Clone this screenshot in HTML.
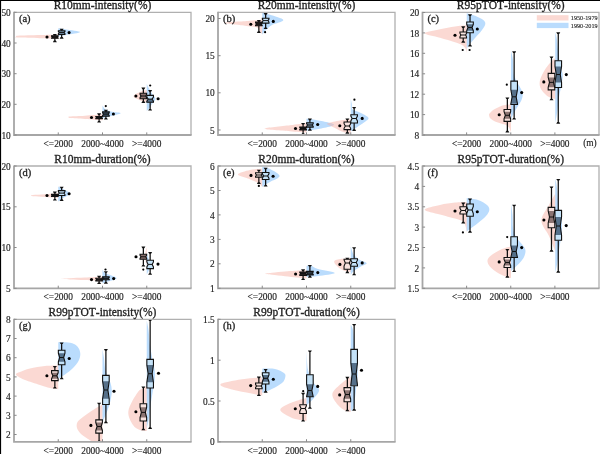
<!DOCTYPE html>
<html><head><meta charset="utf-8"><title>Violin plots</title>
<style>
html,body{margin:0;padding:0;background:#fff;}
body{width:600px;height:454px;overflow:hidden;}
svg{display:block;will-change:transform;filter:blur(0.35px);}
text{font-family:"Liberation Serif", serif;fill:#1e1e1e;font-kerning:none;stroke:#222;stroke-width:0.15px;}
.tl{font-size:9.4px;}
.tt{font-size:11.5px;stroke-width:0.3px;}
.lt{font-size:10.5px;stroke-width:0.3px;}
.lg{font-size:6.2px;stroke-width:0.1px;}
</style></head>
<body>
<svg width="600" height="454" viewBox="0 0 600 454">
<rect width="600" height="454" fill="#fff"/>
<clipPath id="clip0"><rect x="14" y="12.3" width="177" height="122.7"/></clipPath>
<g clip-path="url(#clip0)">
<path d="M58.25,34.4 C55.21,34.5 46.71,34.78 40,35 C33.29,35.22 21.93,35.43 18,35.7 C14.07,35.97 16.4,36.28 16.4,36.6 C16.4,36.92 14.07,37.32 18,37.6 C21.93,37.88 33.29,38.07 40,38.3 C46.71,38.53 55.21,38.88 58.25,39 Z" fill="#f7b3a7" fill-opacity="0.5"/>
<path d="M58.25,28.2 C59.54,28.4 62.33,28.77 66,29.4 C69.67,30.03 80.3,31.08 80.3,32 C80.3,32.92 69.67,34.2 66,34.9 C62.33,35.6 59.54,35.98 58.25,36.2 Z" fill="#75b9fb" fill-opacity="0.5"/>
<path d="M102.5,114.3 C99.58,114.53 90.42,115.33 85,115.7 C79.58,116.07 72.72,116.25 70,116.5 C67.28,116.75 68.7,116.95 68.7,117.2 C68.7,117.45 67.28,117.72 70,118 C72.72,118.28 79.58,118.52 85,118.9 C90.42,119.28 99.58,120.07 102.5,120.3 Z" fill="#f7b3a7" fill-opacity="0.5"/>
<path d="M102.5,105.5 C103,106.17 103.92,108.45 105.5,109.5 C107.08,110.55 109.47,111.17 112,111.8 C114.53,112.43 121.03,112.55 120.7,113.3 C120.37,114.05 113.03,115.48 110,116.3 C106.97,117.12 103.75,117.88 102.5,118.2 Z" fill="#75b9fb" fill-opacity="0.5"/>
<path d="M146.75,90 C145.71,90.3 142.71,90.75 140.5,91.8 C138.29,92.85 133.5,94.85 133.5,96.3 C133.5,97.75 138.29,99.5 140.5,100.5 C142.71,101.5 145.71,102 146.75,102.3 Z" fill="#f7b3a7" fill-opacity="0.5"/>
<path d="M146.75,84 C147.12,84.75 148.07,86.83 149,88.5 C149.93,90.17 151.22,92.25 152.3,94 C153.38,95.75 155.55,97.33 155.5,99 C155.45,100.67 153.08,102.42 152,104 C150.92,105.58 149.88,107.33 149,108.5 C148.12,109.67 147.12,110.58 146.75,111 Z" fill="#75b9fb" fill-opacity="0.5"/>
<path d="M54.85,34.6 V35.7 M54.85,38.3 V41.5" stroke="#111" stroke-width="1.25" fill="none"/>
<polygon points="52.85,33.9 56.85,33.9 55.85,35.5 53.85,35.5" fill="#111"/>
<polygon points="52.85,42.2 56.85,42.2 55.85,40.6 53.85,40.6" fill="#111"/>
<polygon points="51.55,35.7 58.15,35.7 58.15,36.22 57.25,37 58.15,37.78 58.15,38.3 51.55,38.3 51.55,37.78 52.45,37 51.55,36.22" fill="#2a2020"/>
<polygon points="51.55,35.7 58.15,35.7 58.15,36.22 57.25,37 58.15,37.78 58.15,38.3 51.55,38.3 51.55,37.78 52.45,37 51.55,36.22" fill="none" stroke="#111" stroke-width="1.1"/>
<path d="M52.45,37 H57.25" stroke="#111" stroke-width="1"/>
<path d="M61.65,29.4 V30.7 M61.65,34.5 V38" stroke="#111" stroke-width="1.25" fill="none"/>
<polygon points="59.65,28.7 63.65,28.7 62.65,30.3 60.65,30.3" fill="#111"/>
<polygon points="59.65,38.7 63.65,38.7 62.65,37.1 60.65,37.1" fill="#111"/>
<polygon points="58.35,30.7 64.95,30.7 64.95,31.46 64.05,32.6 64.95,33.74 64.95,34.5 58.35,34.5 58.35,33.74 59.25,32.6 58.35,31.46" fill="#6f8ca6"/>
<polygon points="58.35,30.7 64.95,30.7 64.95,31.46 64.05,32.6 64.95,33.74 64.95,34.5 58.35,34.5 58.35,33.74 59.25,32.6 58.35,31.46" fill="none" stroke="#111" stroke-width="1.1"/>
<path d="M59.25,32.6 H64.05" stroke="#111" stroke-width="1"/>
<circle cx="47" cy="37" r="1.55" fill="#000"/>
<circle cx="69.1" cy="32.6" r="1.55" fill="#000"/>
<path d="M99.1,114 V116.6 M99.1,118.6 V121.8" stroke="#111" stroke-width="1.25" fill="none"/>
<polygon points="97.1,113.3 101.1,113.3 100.1,114.9 98.1,114.9" fill="#111"/>
<polygon points="97.1,122.5 101.1,122.5 100.1,120.9 98.1,120.9" fill="#111"/>
<polygon points="95.8,116.6 102.4,116.6 102.4,117 101.5,117.6 102.4,118.2 102.4,118.6 95.8,118.6 95.8,118.2 96.7,117.6 95.8,117" fill="#2a2020"/>
<polygon points="95.8,116.6 102.4,116.6 102.4,117 101.5,117.6 102.4,118.2 102.4,118.6 95.8,118.6 95.8,118.2 96.7,117.6 95.8,117" fill="none" stroke="#111" stroke-width="1.1"/>
<path d="M96.7,117.6 H101.5" stroke="#111" stroke-width="1"/>
<path d="M105.9,110.5 V111.9 M105.9,116.3 V118.9" stroke="#111" stroke-width="1.25" fill="none"/>
<polygon points="103.9,109.8 107.9,109.8 106.9,111.4 104.9,111.4" fill="#111"/>
<polygon points="103.9,119.6 107.9,119.6 106.9,118 104.9,118" fill="#111"/>
<polygon points="102.6,111.9 109.2,111.9 109.2,112.78 108.3,114.1 109.2,115.42 109.2,116.3 102.6,116.3 102.6,115.42 103.5,114.1 102.6,112.78" fill="#3e5366"/>
<polygon points="102.6,111.9 109.2,111.9 109.2,112.78 108.3,114.1 109.2,115.42 109.2,116.3 102.6,116.3 102.6,115.42 103.5,114.1 102.6,112.78" fill="none" stroke="#111" stroke-width="1.1"/>
<path d="M103.5,114.1 H108.3" stroke="#111" stroke-width="1"/>
<circle cx="105.8" cy="106.1" r="1.1" fill="#000"/>
<circle cx="91.5" cy="117.5" r="1.55" fill="#000"/>
<circle cx="113.4" cy="114" r="1.55" fill="#000"/>
<path d="M143.35,88.3 V93.3 M143.35,98.8 V102.2" stroke="#111" stroke-width="1.25" fill="none"/>
<polygon points="141.35,87.6 145.35,87.6 144.35,89.2 142.35,89.2" fill="#111"/>
<polygon points="141.35,102.9 145.35,102.9 144.35,101.3 142.35,101.3" fill="#111"/>
<polygon points="140.05,93.3 146.65,93.3 146.65,94.35 145.75,96 146.65,97.65 146.65,98.8 140.05,98.8 140.05,97.65 140.95,96 140.05,94.35" fill="#8a6f6c"/>
<polygon points="140.05,93.3 146.65,93.3 146.65,94.35 145.75,96 146.65,97.65 146.65,98.8 140.05,98.8 140.05,97.65 140.95,96 140.05,94.35" fill="none" stroke="#111" stroke-width="1.1"/>
<path d="M140.95,96 H145.75" stroke="#111" stroke-width="1"/>
<path d="M150.15,90.8 V95.4 M150.15,102.2 V109.9" stroke="#111" stroke-width="1.25" fill="none"/>
<polygon points="148.15,90.1 152.15,90.1 151.15,91.7 149.15,91.7" fill="#111"/>
<polygon points="148.15,110.6 152.15,110.6 151.15,109 149.15,109" fill="#111"/>
<polygon points="146.85,95.4 153.45,95.4 153.45,97.06 152.15,99.1 153.45,101.14 153.45,102.2 146.85,102.2 146.85,101.14 148.15,99.1 146.85,97.06" fill="#c4e2f8"/>
<polygon points="148.15,99.1 152.15,99.1 153.45,101.14 153.45,102.2 146.85,102.2 146.85,101.14" fill="#55708a"/>
<polygon points="146.85,95.4 153.45,95.4 153.45,97.06 152.15,99.1 153.45,101.14 153.45,102.2 146.85,102.2 146.85,101.14 148.15,99.1 146.85,97.06" fill="none" stroke="#111" stroke-width="1.1"/>
<path d="M148.15,99.1 H152.15" stroke="#111" stroke-width="1"/>
<circle cx="150.2" cy="85.5" r="1.1" fill="#000"/>
<circle cx="135.9" cy="96" r="1.55" fill="#000"/>
<circle cx="158.1" cy="98.8" r="1.55" fill="#000"/>
</g>
<path d="M14,12.3 H191 V135" stroke="#b0b0b0" stroke-width="1.3" fill="none"/>
<path d="M14,11.7 V135 H191.6" stroke="#a6a6a6" stroke-width="1.8" fill="none"/>
<path d="M58.25,135 V132.4 M102.5,135 V132.4 M146.75,135 V132.4 M14,135 H16.6 M14,104.3 H16.6 M14,73.7 H16.6 M14,43 H16.6 M14,12.3 H16.6" stroke="#8a8a8a" stroke-width="1" fill="none"/>
<text x="10.8" y="138.6" text-anchor="end" class="tl">10</text>
<text x="10.8" y="107.9" text-anchor="end" class="tl">20</text>
<text x="10.8" y="77.3" text-anchor="end" class="tl">30</text>
<text x="10.8" y="46.6" text-anchor="end" class="tl">40</text>
<text x="10.8" y="15.9" text-anchor="end" class="tl">50</text>
<text x="58.25" y="147" text-anchor="middle" class="tl">&lt;=2000</text>
<text x="102.5" y="147" text-anchor="middle" class="tl">2000~4000</text>
<text x="146.75" y="147" text-anchor="middle" class="tl">&gt;=4000</text>
<text transform="translate(102.5,9.4) scale(1,1.12)" text-anchor="middle" class="tt">R10mm-intensity(%)</text>
<text x="18.9" y="22.3" class="lt">(a)</text>
<clipPath id="clip1"><rect x="218" y="12.3" width="177" height="122.7"/></clipPath>
<g clip-path="url(#clip1)">
<path d="M262.25,19.8 C259.88,20 254.38,20.5 248,21 C241.62,21.5 224.5,22 224,22.8 C223.5,23.6 239.5,25.02 245,25.8 C250.5,26.58 254.5,26.47 257,27.5 C259.5,28.53 259.12,30.92 260,32 C260.88,33.08 261.88,33.67 262.25,34 Z" fill="#f7b3a7" fill-opacity="0.5"/>
<path d="M262.25,12.7 C263.54,13.05 266.49,13.58 270,14.8 C273.51,16.02 282.97,18.3 283.3,20 C283.63,21.7 274.88,23.33 272,25 C269.12,26.67 267.62,28.38 266,30 C264.38,31.62 262.88,33.92 262.25,34.7 Z" fill="#75b9fb" fill-opacity="0.5"/>
<path d="M306.5,123.3 C303.75,123.63 296.97,124.4 290,125.3 C283.03,126.2 264.7,127.72 264.7,128.7 C264.7,129.68 283.03,130.55 290,131.2 C296.97,131.85 303.75,132.37 306.5,132.6 Z" fill="#f7b3a7" fill-opacity="0.5"/>
<path d="M306.5,118.7 C307.92,118.88 310.42,118.8 315,119.8 C319.58,120.8 334,123.07 334,124.7 C334,126.33 319.58,128.58 315,129.6 C310.42,130.62 307.92,130.6 306.5,130.8 Z" fill="#75b9fb" fill-opacity="0.5"/>
<path d="M350.75,119 C349.46,119.17 345.62,119.58 343,120 C340.38,120.42 337.33,121.02 335,121.5 C332.67,121.98 330.42,122.52 329,122.9 C327.58,123.28 326.5,123.42 326.5,123.8 C326.5,124.18 327.75,124.58 329,125.2 C330.25,125.82 332.33,126.67 334,127.5 C335.67,128.33 337.17,129.35 339,130.2 C340.83,131.05 343.04,132.05 345,132.6 C346.96,133.15 349.79,133.35 350.75,133.5 Z" fill="#f7b3a7" fill-opacity="0.5"/>
<path d="M350.75,99 C350.93,99.83 351.56,102.33 351.8,104 C352.04,105.67 351.5,107.83 352.2,109 C352.9,110.17 354.37,110.25 356,111 C357.63,111.75 359.92,112.33 362,113.5 C364.08,114.67 368.17,116.5 368.5,118 C368.83,119.5 365.75,121.08 364,122.5 C362.25,123.92 359.83,125.25 358,126.5 C356.17,127.75 354.21,129.25 353,130 C351.79,130.75 351.12,130.83 350.75,131 Z" fill="#75b9fb" fill-opacity="0.5"/>
<path d="M258.85,20.8 V22 M258.85,25.8 V32.2" stroke="#111" stroke-width="1.25" fill="none"/>
<polygon points="256.85,20.1 260.85,20.1 259.85,21.7 257.85,21.7" fill="#111"/>
<polygon points="256.85,32.9 260.85,32.9 259.85,31.3 257.85,31.3" fill="#111"/>
<polygon points="255.55,22 262.15,22 262.15,22.86 261.25,24 262.15,25.14 262.15,25.8 255.55,25.8 255.55,25.14 256.45,24 255.55,22.86" fill="#2a2020"/>
<polygon points="255.55,22 262.15,22 262.15,22.86 261.25,24 262.15,25.14 262.15,25.8 255.55,25.8 255.55,25.14 256.45,24 255.55,22.86" fill="none" stroke="#111" stroke-width="1.1"/>
<path d="M256.45,24 H261.25" stroke="#111" stroke-width="1"/>
<path d="M265.65,13.8 V18.2 M265.65,23.1 V28.4" stroke="#111" stroke-width="1.25" fill="none"/>
<polygon points="263.65,13.1 267.65,13.1 266.65,14.7 264.65,14.7" fill="#111"/>
<polygon points="263.65,29.1 267.65,29.1 266.65,27.5 264.65,27.5" fill="#111"/>
<polygon points="262.35,18.2 268.95,18.2 268.95,19.13 268.05,20.6 268.95,22.07 268.95,23.1 262.35,23.1 262.35,22.07 263.25,20.6 262.35,19.13" fill="#c4e2f8"/>
<polygon points="262.35,18.2 268.95,18.2 268.95,19.13 268.05,20.6 268.95,22.07 268.95,23.1 262.35,23.1 262.35,22.07 263.25,20.6 262.35,19.13" fill="none" stroke="#111" stroke-width="1.1"/>
<path d="M263.25,20.6 H268.05" stroke="#111" stroke-width="1"/>
<circle cx="265.1" cy="32.2" r="1.1" fill="#000"/>
<circle cx="250.8" cy="24.3" r="1.55" fill="#000"/>
<circle cx="273.3" cy="21.4" r="1.55" fill="#000"/>
<path d="M303.1,123.6 V127.1 M303.1,130 V134.1" stroke="#111" stroke-width="1.25" fill="none"/>
<polygon points="301.1,122.9 305.1,122.9 304.1,124.5 302.1,124.5" fill="#111"/>
<polygon points="301.1,134.8 305.1,134.8 304.1,133.2 302.1,133.2" fill="#111"/>
<polygon points="299.8,127.1 306.4,127.1 306.4,127.63 305.5,128.5 306.4,129.37 306.4,130 299.8,130 299.8,129.37 300.7,128.5 299.8,127.63" fill="#2a2020"/>
<polygon points="299.8,127.1 306.4,127.1 306.4,127.63 305.5,128.5 306.4,129.37 306.4,130 299.8,130 299.8,129.37 300.7,128.5 299.8,127.63" fill="none" stroke="#111" stroke-width="1.1"/>
<path d="M300.7,128.5 H305.5" stroke="#111" stroke-width="1"/>
<path d="M309.9,119.25 V122.75 M309.9,127.1 V130" stroke="#111" stroke-width="1.25" fill="none"/>
<polygon points="307.9,118.55 311.9,118.55 310.9,120.15 308.9,120.15" fill="#111"/>
<polygon points="307.9,130.7 311.9,130.7 310.9,129.1 308.9,129.1" fill="#111"/>
<polygon points="306.6,122.75 313.2,122.75 313.2,123.7 312.3,125 313.2,126.3 313.2,127.1 306.6,127.1 306.6,126.3 307.5,125 306.6,123.7" fill="#6f8ca6"/>
<polygon points="306.6,122.75 313.2,122.75 313.2,123.7 312.3,125 313.2,126.3 313.2,127.1 306.6,127.1 306.6,126.3 307.5,125 306.6,123.7" fill="none" stroke="#111" stroke-width="1.1"/>
<path d="M307.5,125 H312.3" stroke="#111" stroke-width="1"/>
<circle cx="295.5" cy="128.5" r="1.55" fill="#000"/>
<circle cx="317.7" cy="124.5" r="1.55" fill="#000"/>
<path d="M347.35,119.2 V122 M347.35,129.6 V133" stroke="#111" stroke-width="1.25" fill="none"/>
<polygon points="345.35,118.5 349.35,118.5 348.35,120.1 346.35,120.1" fill="#111"/>
<polygon points="345.35,133.7 349.35,133.7 348.35,132.1 346.35,132.1" fill="#111"/>
<polygon points="344.05,122 350.65,122 350.65,123.72 349.35,126 350.65,128.28 350.65,129.6 344.05,129.6 344.05,128.28 345.35,126 344.05,123.72" fill="#f7e2de"/>
<polygon points="344.05,122 350.65,122 350.65,123.72 349.35,126 350.65,128.28 350.65,129.6 344.05,129.6 344.05,128.28 345.35,126 344.05,123.72" fill="none" stroke="#111" stroke-width="1.1"/>
<path d="M345.35,126 H349.35" stroke="#111" stroke-width="1"/>
<path d="M354.15,107.6 V114.8 M354.15,123 V130.2" stroke="#111" stroke-width="1.25" fill="none"/>
<polygon points="352.15,106.9 356.15,106.9 355.15,108.5 353.15,108.5" fill="#111"/>
<polygon points="352.15,130.9 356.15,130.9 355.15,129.3 353.15,129.3" fill="#111"/>
<polygon points="350.85,114.8 357.45,114.8 357.45,116.04 356.15,118.5 357.45,120.96 357.45,123 350.85,123 350.85,120.96 352.15,118.5 350.85,116.04" fill="#c4e2f8"/>
<polygon points="350.85,114.8 357.45,114.8 357.45,116.04 356.15,118.5 357.45,120.96 357.45,123 350.85,123 350.85,120.96 352.15,118.5 350.85,116.04" fill="none" stroke="#111" stroke-width="1.1"/>
<path d="M352.15,118.5 H356.15" stroke="#111" stroke-width="1"/>
<circle cx="354.4" cy="99.7" r="1.1" fill="#000"/>
<circle cx="339.8" cy="125.8" r="1.55" fill="#000"/>
<circle cx="362.2" cy="118.4" r="1.55" fill="#000"/>
</g>
<path d="M218,12.3 H395 V135" stroke="#b0b0b0" stroke-width="1.3" fill="none"/>
<path d="M218,11.7 V135 H395.6" stroke="#a6a6a6" stroke-width="1.8" fill="none"/>
<path d="M262.25,135 V132.4 M306.5,135 V132.4 M350.75,135 V132.4 M218,130 H220.6 M218,92.8 H220.6 M218,55.7 H220.6 M218,18.5 H220.6" stroke="#8a8a8a" stroke-width="1" fill="none"/>
<text x="214.8" y="133.6" text-anchor="end" class="tl">5</text>
<text x="214.8" y="96.4" text-anchor="end" class="tl">10</text>
<text x="214.8" y="59.3" text-anchor="end" class="tl">15</text>
<text x="214.8" y="22.1" text-anchor="end" class="tl">20</text>
<text x="262.25" y="147" text-anchor="middle" class="tl">&lt;=2000</text>
<text x="306.5" y="147" text-anchor="middle" class="tl">2000~4000</text>
<text x="350.75" y="147" text-anchor="middle" class="tl">&gt;=4000</text>
<text transform="translate(306.5,9.4) scale(1,1.12)" text-anchor="middle" class="tt">R20mm-intensity(%)</text>
<text x="222.9" y="22.3" class="lt">(b)</text>
<clipPath id="clip2"><rect x="422.5" y="12.3" width="176.5" height="122.7"/></clipPath>
<g clip-path="url(#clip2)">
<path d="M466.75,25.3 C464.79,25.5 459.46,25.85 455,26.5 C450.54,27.15 445.05,28.07 440,29.2 C434.95,30.33 424.7,31.87 424.7,33.3 C424.7,34.73 434.95,36.32 440,37.8 C445.05,39.28 451.33,41 455,42.2 C458.67,43.4 460.25,43.95 462,45 C463.75,46.05 464.71,47.22 465.5,48.5 C466.29,49.78 466.54,52 466.75,52.7 Z" fill="#f7b3a7" fill-opacity="0.5"/>
<path d="M466.75,13.3 C468.12,13.72 472.29,14.72 475,15.8 C477.71,16.88 481.28,18.43 483,19.8 C484.72,21.17 485.47,22.3 485.3,24 C485.13,25.7 483.72,27.67 482,30 C480.28,32.33 477.17,35.5 475,38 C472.83,40.5 470.38,43.22 469,45 C467.62,46.78 467.12,48.08 466.75,48.7 Z" fill="#75b9fb" fill-opacity="0.5"/>
<path d="M511,104.5 C510,104.58 506.83,104.67 505,105 C503.17,105.33 501.83,105.75 500,106.5 C498.17,107.25 495.67,108.42 494,109.5 C492.33,110.58 490.83,112.08 490,113 C489.17,113.92 488.92,114.08 489,115 C489.08,115.92 489.5,117.42 490.5,118.5 C491.5,119.58 493.25,120.67 495,121.5 C496.75,122.33 499.17,122.92 501,123.5 C502.83,124.08 504.67,124.33 506,125 C507.33,125.67 508.25,126.5 509,127.5 C509.75,128.5 510.17,130.25 510.5,131 C510.83,131.75 510.92,131.83 511,132 Z" fill="#f7b3a7" fill-opacity="0.5"/>
<path d="M511,51 C511.33,52.5 512.58,56.5 513,60 C513.42,63.5 513.17,69 513.5,72 C513.83,75 514.25,76 515,78 C515.75,80 517,82.17 518,84 C519,85.83 520.22,87.33 521,89 C521.78,90.67 522.62,92.17 522.7,94 C522.78,95.83 522.28,98 521.5,100 C520.72,102 519.17,104 518,106 C516.83,108 515.5,110.17 514.5,112 C513.5,113.83 512.58,115.77 512,117 C511.42,118.23 511.17,119 511,119.4 Z" fill="#75b9fb" fill-opacity="0.5"/>
<path d="M555.25,58 C554.54,58.67 552.54,60.33 551,62 C549.46,63.67 547.5,65.83 546,68 C544.5,70.17 543.05,72.67 542,75 C540.95,77.33 539.95,79.83 539.7,82 C539.45,84.17 539.78,86.17 540.5,88 C541.22,89.83 542.58,91.5 544,93 C545.42,94.5 547.12,96 549,97 C550.88,98 554.21,98.67 555.25,99 Z" fill="#f7b3a7" fill-opacity="0.5"/>
<path d="M555.25,32.3 C555.54,33.58 556.46,36.22 557,40 C557.54,43.78 557.83,50.33 558.5,55 C559.17,59.67 560.3,64.67 561,68 C561.7,71.33 562.62,72.17 562.7,75 C562.78,77.83 562.12,81.33 561.5,85 C560.88,88.67 559.67,92.83 559,97 C558.33,101.17 558.12,105.67 557.5,110 C556.88,114.33 555.62,120.83 555.25,123 Z" fill="#75b9fb" fill-opacity="0.5"/>
<path d="M463.23,27 V32 M463.23,38 V42" stroke="#111" stroke-width="1.25" fill="none"/>
<polygon points="461.23,26.3 465.23,26.3 464.23,27.9 462.23,27.9" fill="#111"/>
<polygon points="461.23,42.7 465.23,42.7 464.23,41.1 462.23,41.1" fill="#111"/>
<polygon points="459.93,32 466.53,32 466.53,33.2 465.63,35 466.53,36.8 466.53,38 459.93,38 459.93,36.8 460.82,35 459.93,33.2" fill="#f7e2de"/>
<polygon points="459.93,32 466.53,32 466.53,33.2 465.63,35 466.53,36.8 466.53,38 459.93,38 459.93,36.8 460.82,35 459.93,33.2" fill="none" stroke="#111" stroke-width="1.1"/>
<path d="M460.82,35 H465.63" stroke="#111" stroke-width="1"/>
<path d="M470.02,15 V22 M470.02,32.7 V45.7" stroke="#111" stroke-width="1.25" fill="none"/>
<polygon points="468.02,14.3 472.02,14.3 471.02,15.9 469.02,15.9" fill="#111"/>
<polygon points="468.02,46.4 472.02,46.4 471.02,44.8 469.02,44.8" fill="#111"/>
<polygon points="466.72,22 473.32,22 473.32,24.29 472.02,27.5 473.32,30.71 473.32,32.7 466.72,32.7 466.72,30.71 468.02,27.5 466.72,24.29" fill="#c4e2f8"/>
<polygon points="466.72,24.29 473.32,24.29 472.02,27.5 473.32,30.71 466.72,30.71 468.02,27.5" fill="#55708a"/>
<polygon points="466.72,22 473.32,22 473.32,24.29 472.02,27.5 473.32,30.71 473.32,32.7 466.72,32.7 466.72,30.71 468.02,27.5 466.72,24.29" fill="none" stroke="#111" stroke-width="1.1"/>
<path d="M468.02,27.5 H472.02" stroke="#111" stroke-width="1"/>
<circle cx="462.7" cy="50" r="1.1" fill="#000"/>
<circle cx="469.6" cy="50" r="1.1" fill="#000"/>
<circle cx="455" cy="35.3" r="1.55" fill="#000"/>
<circle cx="477.3" cy="29" r="1.55" fill="#000"/>
<path d="M507.35,98.2 V109.5 M507.35,121.4 V131.7" stroke="#111" stroke-width="1.25" fill="none"/>
<polygon points="505.35,97.5 509.35,97.5 508.35,99.1 506.35,99.1" fill="#111"/>
<polygon points="505.35,132.4 509.35,132.4 508.35,130.8 506.35,130.8" fill="#111"/>
<polygon points="504.05,109.5 510.65,109.5 510.65,111.73 509.35,115.3 510.65,118.87 510.65,121.4 504.05,121.4 504.05,118.87 505.35,115.3 504.05,111.73" fill="#f7e2de"/>
<polygon points="504.05,111.73 510.65,111.73 509.35,115.3 510.65,118.87 504.05,118.87 505.35,115.3" fill="#8c7472"/>
<polygon points="504.05,109.5 510.65,109.5 510.65,111.73 509.35,115.3 510.65,118.87 510.65,121.4 504.05,121.4 504.05,118.87 505.35,115.3 504.05,111.73" fill="none" stroke="#111" stroke-width="1.1"/>
<path d="M505.35,115.3 H509.35" stroke="#111" stroke-width="1"/>
<path d="M514.15,52 V81.1 M514.15,104.5 V118.8" stroke="#111" stroke-width="1.25" fill="none"/>
<polygon points="512.15,51.3 516.15,51.3 515.15,52.9 513.15,52.9" fill="#111"/>
<polygon points="512.15,119.5 516.15,119.5 515.15,117.9 513.15,117.9" fill="#111"/>
<polygon points="510.85,81.1 517.45,81.1 517.45,89.78 516.15,96.8 517.45,103.82 517.45,104.5 510.85,104.5 510.85,103.82 512.15,96.8 510.85,89.78" fill="#c4e2f8"/>
<polygon points="510.85,89.78 517.45,89.78 516.15,96.8 517.45,103.82 510.85,103.82 512.15,96.8" fill="#55708a"/>
<polygon points="510.85,81.1 517.45,81.1 517.45,89.78 516.15,96.8 517.45,103.82 517.45,104.5 510.85,104.5 510.85,103.82 512.15,96.8 510.85,89.78" fill="none" stroke="#111" stroke-width="1.1"/>
<path d="M512.15,96.8 H516.15" stroke="#111" stroke-width="1"/>
<circle cx="506.8" cy="84.7" r="1.1" fill="#000"/>
<circle cx="499.2" cy="114.8" r="1.55" fill="#000"/>
<circle cx="521.7" cy="92.6" r="1.55" fill="#000"/>
<path d="M551.48,57.2 V73.4 M551.48,89.9 V99.6" stroke="#111" stroke-width="1.25" fill="none"/>
<polygon points="549.48,56.5 553.48,56.5 552.48,58.1 550.48,58.1" fill="#111"/>
<polygon points="549.48,100.3 553.48,100.3 552.48,98.7 550.48,98.7" fill="#111"/>
<polygon points="548.18,73.4 554.77,73.4 554.77,77.45 553.48,82.4 554.77,87.35 554.77,89.9 548.18,89.9 548.18,87.35 549.48,82.4 548.18,77.45" fill="#f7e2de"/>
<polygon points="548.18,77.45 554.77,77.45 553.48,82.4 554.77,87.35 548.18,87.35 549.48,82.4" fill="#8c7472"/>
<polygon points="548.18,73.4 554.77,73.4 554.77,77.45 553.48,82.4 554.77,87.35 554.77,89.9 548.18,89.9 548.18,87.35 549.48,82.4 548.18,77.45" fill="none" stroke="#111" stroke-width="1.1"/>
<path d="M549.48,82.4 H553.48" stroke="#111" stroke-width="1"/>
<path d="M558.27,33 V60.8 M558.27,87.5 V123" stroke="#111" stroke-width="1.25" fill="none"/>
<polygon points="556.27,32.3 560.27,32.3 559.27,33.9 557.27,33.9" fill="#111"/>
<polygon points="556.27,123.7 560.27,123.7 559.27,122.1 557.27,122.1" fill="#111"/>
<polygon points="554.98,60.8 561.57,60.8 561.57,66.49 560.27,74.5 561.57,82.51 561.57,87.5 554.98,87.5 554.98,82.51 556.27,74.5 554.98,66.49" fill="#c4e2f8"/>
<polygon points="554.98,66.49 561.57,66.49 560.27,74.5 561.57,82.51 554.98,82.51 556.27,74.5" fill="#55708a"/>
<polygon points="554.98,60.8 561.57,60.8 561.57,66.49 560.27,74.5 561.57,82.51 561.57,87.5 554.98,87.5 554.98,82.51 556.27,74.5 554.98,66.49" fill="none" stroke="#111" stroke-width="1.1"/>
<path d="M556.27,74.5 H560.27" stroke="#111" stroke-width="1"/>
<circle cx="543.8" cy="81.9" r="1.55" fill="#000"/>
<circle cx="566.3" cy="74.6" r="1.55" fill="#000"/>
</g>
<path d="M422.5,12.3 H599 V135" stroke="#b0b0b0" stroke-width="1.3" fill="none"/>
<path d="M422.5,11.7 V135 H599.6" stroke="#a6a6a6" stroke-width="1.8" fill="none"/>
<path d="M466.62,135 V132.4 M510.75,135 V132.4 M554.88,135 V132.4 M422.5,135 H425.1 M422.5,114.6 H425.1 M422.5,94.2 H425.1 M422.5,73.8 H425.1 M422.5,53.3 H425.1 M422.5,32.9 H425.1 M422.5,12.5 H425.1" stroke="#8a8a8a" stroke-width="1" fill="none"/>
<text x="419.3" y="138.6" text-anchor="end" class="tl">8</text>
<text x="419.3" y="118.2" text-anchor="end" class="tl">10</text>
<text x="419.3" y="97.8" text-anchor="end" class="tl">12</text>
<text x="419.3" y="77.4" text-anchor="end" class="tl">14</text>
<text x="419.3" y="56.9" text-anchor="end" class="tl">16</text>
<text x="419.3" y="36.5" text-anchor="end" class="tl">18</text>
<text x="419.3" y="16.1" text-anchor="end" class="tl">20</text>
<text x="466.62" y="147" text-anchor="middle" class="tl">&lt;=2000</text>
<text x="510.75" y="147" text-anchor="middle" class="tl">2000~4000</text>
<text x="554.88" y="147" text-anchor="middle" class="tl">&gt;=4000</text>
<text transform="translate(510.75,9.4) scale(1,1.12)" text-anchor="middle" class="tt">R95pTOT-intensity(%)</text>
<text x="427.4" y="22.3" class="lt">(c)</text>
<clipPath id="clip3"><rect x="14" y="166" width="177" height="122.3"/></clipPath>
<g clip-path="url(#clip3)">
<path d="M58.25,193.2 C56.04,193.37 49.21,193.9 45,194.2 C40.79,194.5 35.33,194.77 33,195 C30.67,195.23 31,195.4 31,195.6 C31,195.8 30.67,195.97 33,196.2 C35.33,196.43 40.79,196.7 45,197 C49.21,197.3 56.04,197.83 58.25,198 Z" fill="#f7b3a7" fill-opacity="0.5"/>
<path d="M58.25,186.5 C59.04,186.92 61.04,187.83 63,189 C64.96,190.17 70,192 70,193.5 C70,195 64.96,196.67 63,198 C61.04,199.33 59.04,200.92 58.25,201.5 Z" fill="#75b9fb" fill-opacity="0.5"/>
<path d="M102.5,276.8 C99.58,276.93 90.42,277.37 85,277.6 C79.58,277.83 74,278 70,278.2 C66,278.4 61,278.6 61,278.8 C61,279 66,279.2 70,279.4 C74,279.6 79.58,279.73 85,280 C90.42,280.27 99.58,280.83 102.5,281 Z" fill="#f7b3a7" fill-opacity="0.5"/>
<path d="M102.5,269.3 C102.92,269.92 102.65,271.55 105,273 C107.35,274.45 116.1,276.58 116.6,278 C117.1,279.42 110.35,280.62 108,281.5 C105.65,282.38 103.42,283 102.5,283.3 Z" fill="#75b9fb" fill-opacity="0.5"/>
<path d="M146.75,247 C146.54,247.83 145.79,250.5 145.5,252 C145.21,253.5 145,254.5 145,256 C145,257.5 145.21,259.33 145.5,261 C145.79,262.67 146.54,265.17 146.75,266 Z" fill="#f7b3a7" fill-opacity="0.5"/>
<path d="M146.75,253 C147.12,254.17 148.38,258 149,260 C149.62,262 150.5,263.33 150.5,265 C150.5,266.67 149.62,268.4 149,270 C148.38,271.6 147.12,273.83 146.75,274.6 Z" fill="#75b9fb" fill-opacity="0.5"/>
<path d="M54.85,192.3 V194.4 M54.85,196.4 V199.9" stroke="#111" stroke-width="1.25" fill="none"/>
<polygon points="52.85,191.6 56.85,191.6 55.85,193.2 53.85,193.2" fill="#111"/>
<polygon points="52.85,200.6 56.85,200.6 55.85,199 53.85,199" fill="#111"/>
<polygon points="51.55,194.4 58.15,194.4 58.15,194.8 57.25,195.4 58.15,196 58.15,196.4 51.55,196.4 51.55,196 52.45,195.4 51.55,194.8" fill="#2a2020"/>
<polygon points="51.55,194.4 58.15,194.4 58.15,194.8 57.25,195.4 58.15,196 58.15,196.4 51.55,196.4 51.55,196 52.45,195.4 51.55,194.8" fill="none" stroke="#111" stroke-width="1.1"/>
<path d="M52.45,195.4 H57.25" stroke="#111" stroke-width="1"/>
<path d="M61.65,187.4 V190.6 M61.65,195.5 V200.2" stroke="#111" stroke-width="1.25" fill="none"/>
<polygon points="59.65,186.7 63.65,186.7 62.65,188.3 60.65,188.3" fill="#111"/>
<polygon points="59.65,200.9 63.65,200.9 62.65,199.3 60.65,199.3" fill="#111"/>
<polygon points="58.35,190.6 64.95,190.6 64.95,191.63 64.05,193.1 64.95,194.57 64.95,195.5 58.35,195.5 58.35,194.57 59.25,193.1 58.35,191.63" fill="#c4e2f8"/>
<polygon points="58.35,190.6 64.95,190.6 64.95,191.63 64.05,193.1 64.95,194.57 64.95,195.5 58.35,195.5 58.35,194.57 59.25,193.1 58.35,191.63" fill="none" stroke="#111" stroke-width="1.1"/>
<path d="M59.25,193.1 H64.05" stroke="#111" stroke-width="1"/>
<circle cx="47" cy="195.5" r="1.55" fill="#000"/>
<circle cx="69.1" cy="193.7" r="1.55" fill="#000"/>
<path d="M99.1,276.5 V278.3 M99.1,280.9 V283.3" stroke="#111" stroke-width="1.25" fill="none"/>
<polygon points="97.1,275.8 101.1,275.8 100.1,277.4 98.1,277.4" fill="#111"/>
<polygon points="97.1,284 101.1,284 100.1,282.4 98.1,282.4" fill="#111"/>
<polygon points="95.8,278.3 102.4,278.3 102.4,278.82 101.5,279.6 102.4,280.38 102.4,280.9 95.8,280.9 95.8,280.38 96.7,279.6 95.8,278.82" fill="#8a6f6c"/>
<polygon points="95.8,278.3 102.4,278.3 102.4,278.82 101.5,279.6 102.4,280.38 102.4,280.9 95.8,280.9 95.8,280.38 96.7,279.6 95.8,278.82" fill="none" stroke="#111" stroke-width="1.1"/>
<path d="M96.7,279.6 H101.5" stroke="#111" stroke-width="1"/>
<path d="M105.9,271.9 V276.8 M105.9,279.75 V283" stroke="#111" stroke-width="1.25" fill="none"/>
<polygon points="103.9,271.2 107.9,271.2 106.9,272.8 104.9,272.8" fill="#111"/>
<polygon points="103.9,283.7 107.9,283.7 106.9,282.1 104.9,282.1" fill="#111"/>
<polygon points="102.6,276.8 109.2,276.8 109.2,277.42 108.3,278.3 109.2,279.19 109.2,279.75 102.6,279.75 102.6,279.19 103.5,278.3 102.6,277.42" fill="#3e5366"/>
<polygon points="102.6,276.8 109.2,276.8 109.2,277.42 108.3,278.3 109.2,279.19 109.2,279.75 102.6,279.75 102.6,279.19 103.5,278.3 102.6,277.42" fill="none" stroke="#111" stroke-width="1.1"/>
<path d="M103.5,278.3 H108.3" stroke="#111" stroke-width="1"/>
<circle cx="105.5" cy="269.5" r="1.1" fill="#000"/>
<circle cx="91.5" cy="279.6" r="1.55" fill="#000"/>
<circle cx="113.7" cy="278.6" r="1.55" fill="#000"/>
<path d="M143.35,247.3 V254.2 M143.35,259.3 V265.8" stroke="#111" stroke-width="1.25" fill="none"/>
<polygon points="141.35,246.6 145.35,246.6 144.35,248.2 142.35,248.2" fill="#111"/>
<polygon points="141.35,266.5 145.35,266.5 144.35,264.9 142.35,264.9" fill="#111"/>
<polygon points="140.05,254.2 146.65,254.2 146.65,255.27 145.75,256.8 146.65,258.33 146.65,259.3 140.05,259.3 140.05,258.33 140.95,256.8 140.05,255.27" fill="#8a6f6c"/>
<polygon points="140.05,254.2 146.65,254.2 146.65,255.27 145.75,256.8 146.65,258.33 146.65,259.3 140.05,259.3 140.05,258.33 140.95,256.8 140.05,255.27" fill="none" stroke="#111" stroke-width="1.1"/>
<path d="M140.95,256.8 H145.75" stroke="#111" stroke-width="1"/>
<path d="M150.15,252.8 V260.2 M150.15,268.6 V274.1" stroke="#111" stroke-width="1.25" fill="none"/>
<polygon points="148.15,252.1 152.15,252.1 151.15,253.7 149.15,253.7" fill="#111"/>
<polygon points="148.15,274.8 152.15,274.8 151.15,273.2 149.15,273.2" fill="#111"/>
<polygon points="146.85,260.2 153.45,260.2 153.45,261.88 152.15,264.4 153.45,266.92 153.45,268.6 146.85,268.6 146.85,266.92 148.15,264.4 146.85,261.88" fill="#c4e2f8"/>
<polygon points="146.85,260.2 153.45,260.2 153.45,261.88 152.15,264.4 153.45,266.92 153.45,268.6 146.85,268.6 146.85,266.92 148.15,264.4 146.85,261.88" fill="none" stroke="#111" stroke-width="1.1"/>
<path d="M148.15,264.4 H152.15" stroke="#111" stroke-width="1"/>
<circle cx="143.3" cy="269.6" r="1.1" fill="#000"/>
<circle cx="136" cy="256.8" r="1.55" fill="#000"/>
<circle cx="158" cy="264.1" r="1.55" fill="#000"/>
</g>
<path d="M14,166 H191 V288.3" stroke="#b0b0b0" stroke-width="1.3" fill="none"/>
<path d="M14,165.4 V288.3 H191.6" stroke="#a6a6a6" stroke-width="1.8" fill="none"/>
<path d="M58.25,288.3 V285.7 M102.5,288.3 V285.7 M146.75,288.3 V285.7 M14,288.3 H16.6 M14,247.5 H16.6 M14,206.8 H16.6 M14,166 H16.6" stroke="#8a8a8a" stroke-width="1" fill="none"/>
<text x="10.8" y="291.9" text-anchor="end" class="tl">5</text>
<text x="10.8" y="251.1" text-anchor="end" class="tl">10</text>
<text x="10.8" y="210.4" text-anchor="end" class="tl">15</text>
<text x="10.8" y="169.6" text-anchor="end" class="tl">20</text>
<text x="58.25" y="300.3" text-anchor="middle" class="tl">&lt;=2000</text>
<text x="102.5" y="300.3" text-anchor="middle" class="tl">2000~4000</text>
<text x="146.75" y="300.3" text-anchor="middle" class="tl">&gt;=4000</text>
<text transform="translate(102.5,163.1) scale(1,1.12)" text-anchor="middle" class="tt">R10mm-duration(%)</text>
<text x="18.9" y="176" class="lt">(d)</text>
<clipPath id="clip4"><rect x="218" y="166" width="177" height="122.3"/></clipPath>
<g clip-path="url(#clip4)">
<path d="M262.25,168.8 C260.21,169 254.04,169.08 250,170 C245.96,170.92 238.33,172.88 238,174.3 C237.67,175.72 244.67,177.05 248,178.5 C251.33,179.95 255.62,181.58 258,183 C260.38,184.42 261.54,186.33 262.25,187 Z" fill="#f7b3a7" fill-opacity="0.5"/>
<path d="M262.25,167 C263.54,167.33 267.11,167.5 270,169 C272.89,170.5 279.6,173.83 279.6,176 C279.6,178.17 272.89,180.22 270,182 C267.11,183.78 263.54,185.92 262.25,186.7 Z" fill="#75b9fb" fill-opacity="0.5"/>
<path d="M306.5,270.3 C304.58,270.38 298.58,270.58 295,270.8 C291.42,271.02 288.83,271.27 285,271.6 C281.17,271.93 275.38,272.43 272,272.8 C268.62,273.17 264.7,273.47 264.7,273.8 C264.7,274.13 268.62,274.4 272,274.8 C275.38,275.2 280.83,275.75 285,276.2 C289.17,276.65 293.42,277.12 297,277.5 C300.58,277.88 304.92,278.33 306.5,278.5 Z" fill="#f7b3a7" fill-opacity="0.5"/>
<path d="M306.5,266 C307.08,265.83 308.08,264.5 310,265 C311.92,265.5 313.88,267.67 318,269 C322.12,270.33 334.7,271.83 334.7,273 C334.7,274.17 322.7,275.33 318,276 C313.3,276.67 308.42,276.83 306.5,277 Z" fill="#75b9fb" fill-opacity="0.5"/>
<path d="M350.75,258.3 C349.79,258.33 346.96,258.33 345,258.5 C343.04,258.67 340.67,258.97 339,259.3 C337.33,259.63 335.8,260.05 335,260.5 C334.2,260.95 334.03,261.25 334.2,262 C334.37,262.75 335.03,263.92 336,265 C336.97,266.08 338.5,267.5 340,268.5 C341.5,269.5 343.21,270.42 345,271 C346.79,271.58 349.79,271.83 350.75,272 Z" fill="#f7b3a7" fill-opacity="0.5"/>
<path d="M350.75,246.4 C351.29,247.83 352.46,252.73 354,255 C355.54,257.27 357.88,258.62 360,260 C362.12,261.38 366.7,262.13 366.7,263.3 C366.7,264.47 362.12,265.72 360,267 C357.88,268.28 355.54,269.72 354,271 C352.46,272.28 351.29,274.08 350.75,274.7 Z" fill="#75b9fb" fill-opacity="0.5"/>
<path d="M258.85,170.4 V172.75 M258.85,177.1 V183.25" stroke="#111" stroke-width="1.25" fill="none"/>
<polygon points="256.85,169.7 260.85,169.7 259.85,171.3 257.85,171.3" fill="#111"/>
<polygon points="256.85,183.95 260.85,183.95 259.85,182.35 257.85,182.35" fill="#111"/>
<polygon points="255.55,172.75 262.15,172.75 262.15,173.69 261.25,175 262.15,176.31 262.15,177.1 255.55,177.1 255.55,176.31 256.45,175 255.55,173.69" fill="#f7e2de"/>
<polygon points="255.55,172.75 262.15,172.75 262.15,173.69 261.25,175 262.15,176.31 262.15,177.1 255.55,177.1 255.55,176.31 256.45,175 255.55,173.69" fill="none" stroke="#111" stroke-width="1.1"/>
<path d="M256.45,175 H261.25" stroke="#111" stroke-width="1"/>
<path d="M265.65,168.4 V172.5 M265.65,179.5 V185.9" stroke="#111" stroke-width="1.25" fill="none"/>
<polygon points="263.65,167.7 267.65,167.7 266.65,169.3 264.65,169.3" fill="#111"/>
<polygon points="263.65,186.6 267.65,186.6 266.65,185 264.65,185" fill="#111"/>
<polygon points="262.35,172.5 268.95,172.5 268.95,173.9 267.65,176 268.95,178.1 268.95,179.5 262.35,179.5 262.35,178.1 263.65,176 262.35,173.9" fill="#c4e2f8"/>
<polygon points="262.35,172.5 268.95,172.5 268.95,173.9 267.65,176 268.95,178.1 268.95,179.5 262.35,179.5 262.35,178.1 263.65,176 262.35,173.9" fill="none" stroke="#111" stroke-width="1.1"/>
<path d="M263.65,176 H267.65" stroke="#111" stroke-width="1"/>
<circle cx="258.85" cy="185.9" r="1.1" fill="#000"/>
<circle cx="251" cy="175.4" r="1.55" fill="#000"/>
<circle cx="273.1" cy="176.25" r="1.55" fill="#000"/>
<path d="M303.1,270 V272 M303.1,275.5 V279.3" stroke="#111" stroke-width="1.25" fill="none"/>
<polygon points="301.1,269.3 305.1,269.3 304.1,270.9 302.1,270.9" fill="#111"/>
<polygon points="301.1,280 305.1,280 304.1,278.4 302.1,278.4" fill="#111"/>
<polygon points="299.8,272 306.4,272 306.4,272.65 305.5,273.7 306.4,274.75 306.4,275.5 299.8,275.5 299.8,274.75 300.7,273.7 299.8,272.65" fill="#2a2020"/>
<polygon points="299.8,272 306.4,272 306.4,272.65 305.5,273.7 306.4,274.75 306.4,275.5 299.8,275.5 299.8,274.75 300.7,273.7 299.8,272.65" fill="none" stroke="#111" stroke-width="1.1"/>
<path d="M300.7,273.7 H305.5" stroke="#111" stroke-width="1"/>
<path d="M309.9,265.6 V271.4 M309.9,274.9 V277" stroke="#111" stroke-width="1.25" fill="none"/>
<polygon points="307.9,264.9 311.9,264.9 310.9,266.5 308.9,266.5" fill="#111"/>
<polygon points="307.9,277.7 311.9,277.7 310.9,276.1 308.9,276.1" fill="#111"/>
<polygon points="306.6,271.4 313.2,271.4 313.2,272.05 312.3,273.1 313.2,274.15 313.2,274.9 306.6,274.9 306.6,274.15 307.5,273.1 306.6,272.05" fill="#3e5366"/>
<polygon points="306.6,271.4 313.2,271.4 313.2,272.05 312.3,273.1 313.2,274.15 313.2,274.9 306.6,274.9 306.6,274.15 307.5,273.1 306.6,272.05" fill="none" stroke="#111" stroke-width="1.1"/>
<path d="M307.5,273.1 H312.3" stroke="#111" stroke-width="1"/>
<circle cx="295.6" cy="274" r="1.55" fill="#000"/>
<circle cx="317.8" cy="272.6" r="1.55" fill="#000"/>
<path d="M347.35,258.4 V259.2 M347.35,269.2 V272.5" stroke="#111" stroke-width="1.25" fill="none"/>
<polygon points="345.35,257.7 349.35,257.7 348.35,259.3 346.35,259.3" fill="#111"/>
<polygon points="345.35,273.2 349.35,273.2 348.35,271.6 346.35,271.6" fill="#111"/>
<polygon points="344.05,259.2 350.65,259.2 350.65,260 349.35,263 350.65,266 350.65,269.2 344.05,269.2 344.05,266 345.35,263 344.05,260" fill="#f7e2de"/>
<polygon points="344.05,259.2 350.65,259.2 350.65,260 349.35,263 350.65,266 350.65,269.2 344.05,269.2 344.05,266 345.35,263 344.05,260" fill="none" stroke="#111" stroke-width="1.1"/>
<path d="M345.35,263 H349.35" stroke="#111" stroke-width="1"/>
<path d="M354.15,247.9 V258.7 M354.15,266.3 V274.6" stroke="#111" stroke-width="1.25" fill="none"/>
<polygon points="352.15,247.2 356.15,247.2 355.15,248.8 353.15,248.8" fill="#111"/>
<polygon points="352.15,275.3 356.15,275.3 355.15,273.7 353.15,273.7" fill="#111"/>
<polygon points="350.85,258.7 357.45,258.7 357.45,260.22 356.15,262.5 357.45,264.78 357.45,266.3 350.85,266.3 350.85,264.78 352.15,262.5 350.85,260.22" fill="#c4e2f8"/>
<polygon points="350.85,258.7 357.45,258.7 357.45,260.22 356.15,262.5 357.45,264.78 357.45,266.3 350.85,266.3 350.85,264.78 352.15,262.5 350.85,260.22" fill="none" stroke="#111" stroke-width="1.1"/>
<path d="M352.15,262.5 H356.15" stroke="#111" stroke-width="1"/>
<circle cx="339.9" cy="264.4" r="1.55" fill="#000"/>
<circle cx="362.2" cy="262.9" r="1.55" fill="#000"/>
</g>
<path d="M218,166 H395 V288.3" stroke="#b0b0b0" stroke-width="1.3" fill="none"/>
<path d="M218,165.4 V288.3 H395.6" stroke="#a6a6a6" stroke-width="1.8" fill="none"/>
<path d="M262.25,288.3 V285.7 M306.5,288.3 V285.7 M350.75,288.3 V285.7 M218,288.3 H220.6 M218,263.8 H220.6 M218,239.4 H220.6 M218,214.9 H220.6 M218,190.5 H220.6 M218,166 H220.6" stroke="#8a8a8a" stroke-width="1" fill="none"/>
<text x="214.8" y="291.9" text-anchor="end" class="tl">1</text>
<text x="214.8" y="267.4" text-anchor="end" class="tl">2</text>
<text x="214.8" y="243" text-anchor="end" class="tl">3</text>
<text x="214.8" y="218.5" text-anchor="end" class="tl">4</text>
<text x="214.8" y="194.1" text-anchor="end" class="tl">5</text>
<text x="214.8" y="169.6" text-anchor="end" class="tl">6</text>
<text x="262.25" y="300.3" text-anchor="middle" class="tl">&lt;=2000</text>
<text x="306.5" y="300.3" text-anchor="middle" class="tl">2000~4000</text>
<text x="350.75" y="300.3" text-anchor="middle" class="tl">&gt;=4000</text>
<text transform="translate(306.5,163.1) scale(1,1.12)" text-anchor="middle" class="tt">R20mm-duration(%)</text>
<text x="222.9" y="176" class="lt">(e)</text>
<clipPath id="clip5"><rect x="422.5" y="166" width="176.5" height="122.3"/></clipPath>
<g clip-path="url(#clip5)">
<path d="M466.75,202 C464.79,202.1 459.46,202.1 455,202.6 C450.54,203.1 445.05,203.82 440,205 C434.95,206.18 424.7,208.12 424.7,209.7 C424.7,211.28 434.95,213.02 440,214.5 C445.05,215.98 451.17,217.43 455,218.6 C458.83,219.77 461.25,220.27 463,221.5 C464.75,222.73 464.88,224.13 465.5,226 C466.12,227.87 466.54,231.58 466.75,232.7 Z" fill="#f7b3a7" fill-opacity="0.5"/>
<path d="M466.75,198 C468.62,198.33 474.62,198.83 478,200 C481.38,201.17 485.12,203.33 487,205 C488.88,206.67 489.47,208.17 489.3,210 C489.13,211.83 487.88,213.83 486,216 C484.12,218.17 480.67,220.83 478,223 C475.33,225.17 471.88,227.62 470,229 C468.12,230.38 467.29,230.92 466.75,231.3 Z" fill="#75b9fb" fill-opacity="0.5"/>
<path d="M511,246.6 C510,246.83 507,247.35 505,248 C503,248.65 501,249.5 499,250.5 C497,251.5 494.75,252.75 493,254 C491.25,255.25 489.42,256.75 488.5,258 C487.58,259.25 487.33,260.17 487.5,261.5 C487.67,262.83 488.25,264.42 489.5,266 C490.75,267.58 492.75,269.42 495,271 C497.25,272.58 500.33,274.33 503,275.5 C505.67,276.67 509.67,277.58 511,278 Z" fill="#f7b3a7" fill-opacity="0.5"/>
<path d="M511,204 C511.25,205.83 512.17,211 512.5,215 C512.83,219 512.5,224.5 513,228 C513.5,231.5 514.33,233.67 515.5,236 C516.67,238.33 518.58,240.17 520,242 C521.42,243.83 523.08,245.5 524,247 C524.92,248.5 525.5,249.33 525.5,251 C525.5,252.67 524.92,255.08 524,257 C523.08,258.92 521.5,260.75 520,262.5 C518.5,264.25 516.5,266.08 515,267.5 C513.5,268.92 511.67,270.42 511,271 Z" fill="#75b9fb" fill-opacity="0.5"/>
<path d="M555.25,194 C554.21,195.83 551.31,200.57 549,205 C546.69,209.43 541.4,215.43 541.4,220.6 C541.4,225.77 546.69,230.93 549,236 C551.31,241.07 554.21,248.5 555.25,251 Z" fill="#f7b3a7" fill-opacity="0.5"/>
<path d="M555.25,178.8 C555.54,180.33 556.46,183.63 557,188 C557.54,192.37 557.83,200 558.5,205 C559.17,210 560.42,214.5 561,218 C561.58,221.5 562,222.67 562,226 C562,229.33 561.5,234 561,238 C560.5,242 559.58,246 559,250 C558.42,254 558.12,258.25 557.5,262 C556.88,265.75 555.62,270.75 555.25,272.5 Z" fill="#75b9fb" fill-opacity="0.5"/>
<path d="M463.23,203.3 V206.7 M463.23,214 V222.7" stroke="#111" stroke-width="1.25" fill="none"/>
<polygon points="461.23,202.6 465.23,202.6 464.23,204.2 462.23,204.2" fill="#111"/>
<polygon points="461.23,223.4 465.23,223.4 464.23,221.8 462.23,221.8" fill="#111"/>
<polygon points="459.93,206.7 466.53,206.7 466.53,208.31 465.23,210.5 466.53,212.69 466.53,214 459.93,214 459.93,212.69 461.23,210.5 459.93,208.31" fill="#f7e2de"/>
<polygon points="459.93,206.7 466.53,206.7 466.53,208.31 465.23,210.5 466.53,212.69 466.53,214 459.93,214 459.93,212.69 461.23,210.5 459.93,208.31" fill="none" stroke="#111" stroke-width="1.1"/>
<path d="M461.23,210.5 H465.23" stroke="#111" stroke-width="1"/>
<path d="M470.02,199.3 V204 M470.02,216.2 V232" stroke="#111" stroke-width="1.25" fill="none"/>
<polygon points="468.02,198.6 472.02,198.6 471.02,200.2 469.02,200.2" fill="#111"/>
<polygon points="468.02,232.7 472.02,232.7 471.02,231.1 469.02,231.1" fill="#111"/>
<polygon points="466.72,204 473.32,204 473.32,206.34 472.02,210 473.32,213.66 473.32,216.2 466.72,216.2 466.72,213.66 468.02,210 466.72,206.34" fill="#c4e2f8"/>
<polygon points="466.72,204 473.32,204 473.32,206.34 472.02,210 473.32,213.66 473.32,216.2 466.72,216.2 466.72,213.66 468.02,210 466.72,206.34" fill="none" stroke="#111" stroke-width="1.1"/>
<path d="M468.02,210 H472.02" stroke="#111" stroke-width="1"/>
<circle cx="462.9" cy="232.4" r="1.1" fill="#000"/>
<circle cx="455" cy="211" r="1.55" fill="#000"/>
<circle cx="477.3" cy="211.7" r="1.55" fill="#000"/>
<path d="M507.35,249.6 V257.5 M507.35,267.5 V277" stroke="#111" stroke-width="1.25" fill="none"/>
<polygon points="505.35,248.9 509.35,248.9 508.35,250.5 506.35,250.5" fill="#111"/>
<polygon points="505.35,277.7 509.35,277.7 508.35,276.1 506.35,276.1" fill="#111"/>
<polygon points="504.05,257.5 510.65,257.5 510.65,259.5 509.35,262.5 510.65,265.5 510.65,267.5 504.05,267.5 504.05,265.5 505.35,262.5 504.05,259.5" fill="#f7e2de"/>
<polygon points="504.05,259.5 510.65,259.5 509.35,262.5 510.65,265.5 504.05,265.5 505.35,262.5" fill="#8c7472"/>
<polygon points="504.05,257.5 510.65,257.5 510.65,259.5 509.35,262.5 510.65,265.5 510.65,267.5 504.05,267.5 504.05,265.5 505.35,262.5 504.05,259.5" fill="none" stroke="#111" stroke-width="1.1"/>
<path d="M505.35,262.5 H509.35" stroke="#111" stroke-width="1"/>
<path d="M514.15,205.4 V236.7 M514.15,257.5 V271.4" stroke="#111" stroke-width="1.25" fill="none"/>
<polygon points="512.15,204.7 516.15,204.7 515.15,206.3 513.15,206.3" fill="#111"/>
<polygon points="512.15,272.1 516.15,272.1 515.15,270.5 513.15,270.5" fill="#111"/>
<polygon points="510.85,236.7 517.45,236.7 517.45,245.5 516.15,251.5 517.45,257.5 517.45,257.5 510.85,257.5 510.85,257.5 512.15,251.5 510.85,245.5" fill="#c4e2f8"/>
<polygon points="510.85,245.5 517.45,245.5 516.15,251.5 517.45,257.5 510.85,257.5 512.15,251.5" fill="#55708a"/>
<polygon points="510.85,236.7 517.45,236.7 517.45,245.5 516.15,251.5 517.45,257.5 517.45,257.5 510.85,257.5 510.85,257.5 512.15,251.5 510.85,245.5" fill="none" stroke="#111" stroke-width="1.1"/>
<path d="M512.15,251.5 H516.15" stroke="#111" stroke-width="1"/>
<circle cx="507.2" cy="237.1" r="1.1" fill="#000"/>
<circle cx="499.2" cy="261.9" r="1.55" fill="#000"/>
<circle cx="521.7" cy="247.6" r="1.55" fill="#000"/>
<path d="M551.48,187.2 V207.4 M551.48,227.7 V251" stroke="#111" stroke-width="1.25" fill="none"/>
<polygon points="549.48,186.5 553.48,186.5 552.48,188.1 550.48,188.1" fill="#111"/>
<polygon points="549.48,251.7 553.48,251.7 552.48,250.1 550.48,250.1" fill="#111"/>
<polygon points="548.18,207.4 554.77,207.4 554.77,210.91 553.48,217 554.77,223.09 554.77,227.7 548.18,227.7 548.18,223.09 549.48,217 548.18,210.91" fill="#f7e2de"/>
<polygon points="548.18,210.91 554.77,210.91 553.48,217 554.77,223.09 548.18,223.09 549.48,217" fill="#8c7472"/>
<polygon points="548.18,207.4 554.77,207.4 554.77,210.91 553.48,217 554.77,223.09 554.77,227.7 548.18,227.7 548.18,223.09 549.48,217 548.18,210.91" fill="none" stroke="#111" stroke-width="1.1"/>
<path d="M549.48,217 H553.48" stroke="#111" stroke-width="1"/>
<path d="M558.27,179.6 V210.4 M558.27,240.3 V272" stroke="#111" stroke-width="1.25" fill="none"/>
<polygon points="556.27,178.9 560.27,178.9 559.27,180.5 557.27,180.5" fill="#111"/>
<polygon points="556.27,272.7 560.27,272.7 559.27,271.1 557.27,271.1" fill="#111"/>
<polygon points="554.98,210.4 561.57,210.4 561.57,217.03 560.27,226 561.57,234.97 561.57,240.3 554.98,240.3 554.98,234.97 556.27,226 554.98,217.03" fill="#c4e2f8"/>
<polygon points="554.98,217.03 561.57,217.03 560.27,226 561.57,234.97 554.98,234.97 556.27,226" fill="#55708a"/>
<polygon points="554.98,210.4 561.57,210.4 561.57,217.03 560.27,226 561.57,234.97 561.57,240.3 554.98,240.3 554.98,234.97 556.27,226 554.98,217.03" fill="none" stroke="#111" stroke-width="1.1"/>
<path d="M556.27,226 H560.27" stroke="#111" stroke-width="1"/>
<circle cx="543.9" cy="220" r="1.55" fill="#000"/>
<circle cx="566.2" cy="225.6" r="1.55" fill="#000"/>
</g>
<path d="M422.5,166 H599 V288.3" stroke="#b0b0b0" stroke-width="1.3" fill="none"/>
<path d="M422.5,165.4 V288.3 H599.6" stroke="#a6a6a6" stroke-width="1.8" fill="none"/>
<path d="M466.62,288.3 V285.7 M510.75,288.3 V285.7 M554.88,288.3 V285.7 M422.5,288.3 H425.1 M422.5,267.9 H425.1 M422.5,247.5 H425.1 M422.5,227.1 H425.1 M422.5,206.8 H425.1 M422.5,186.4 H425.1 M422.5,166 H425.1" stroke="#8a8a8a" stroke-width="1" fill="none"/>
<text x="419.3" y="291.9" text-anchor="end" class="tl">1.5</text>
<text x="419.3" y="271.5" text-anchor="end" class="tl">2</text>
<text x="419.3" y="251.1" text-anchor="end" class="tl">2.5</text>
<text x="419.3" y="230.7" text-anchor="end" class="tl">3</text>
<text x="419.3" y="210.4" text-anchor="end" class="tl">3.5</text>
<text x="419.3" y="190" text-anchor="end" class="tl">4</text>
<text x="419.3" y="169.6" text-anchor="end" class="tl">4.5</text>
<text x="466.62" y="300.3" text-anchor="middle" class="tl">&lt;=2000</text>
<text x="510.75" y="300.3" text-anchor="middle" class="tl">2000~4000</text>
<text x="554.88" y="300.3" text-anchor="middle" class="tl">&gt;=4000</text>
<text transform="translate(510.75,163.1) scale(1,1.12)" text-anchor="middle" class="tt">R95pTOT-duration(%)</text>
<text x="427.4" y="176" class="lt">(f)</text>
<clipPath id="clip6"><rect x="14" y="319.3" width="177" height="122.5"/></clipPath>
<g clip-path="url(#clip6)">
<path d="M58.25,365.5 C56.04,365.58 49.71,365.5 45,366 C40.29,366.5 34.17,367.5 30,368.5 C25.83,369.5 22.33,371.08 20,372 C17.67,372.92 16.33,373.25 16,374 C15.67,374.75 16.5,375.5 18,376.5 C19.5,377.5 21.33,378.58 25,380 C28.67,381.42 35.83,383.67 40,385 C44.17,386.33 46.96,387.3 50,388 C53.04,388.7 56.88,389 58.25,389.2 Z" fill="#f7b3a7" fill-opacity="0.5"/>
<path d="M58.25,342.3 C59.54,342.3 63.38,342.02 66,342.3 C68.62,342.58 71.92,343.05 74,344 C76.08,344.95 77.45,346.33 78.5,348 C79.55,349.67 80.3,351.83 80.3,354 C80.3,356.17 79.72,358.67 78.5,361 C77.28,363.33 75.25,365.75 73,368 C70.75,370.25 67.46,372.73 65,374.5 C62.54,376.27 59.38,377.92 58.25,378.6 Z" fill="#75b9fb" fill-opacity="0.5"/>
<path d="M102.5,404.5 C101.58,405 99.08,406.25 97,407.5 C94.92,408.75 92.33,410.42 90,412 C87.67,413.58 85.08,415.33 83,417 C80.92,418.67 78.5,420.17 77.5,422 C76.5,423.83 76.42,426 77,428 C77.58,430 79.17,432.17 81,434 C82.83,435.83 85.67,437.5 88,439 C90.33,440.5 92.58,442 95,443 C97.42,444 101.25,444.67 102.5,445 Z" fill="#f7b3a7" fill-opacity="0.5"/>
<path d="M102.5,349.4 C102.75,350.83 103.58,354.9 104,358 C104.42,361.1 104.42,365 105,368 C105.58,371 106.58,373.5 107.5,376 C108.42,378.5 109.78,380.67 110.5,383 C111.22,385.33 111.72,387.5 111.8,390 C111.88,392.5 111.47,395.33 111,398 C110.53,400.67 109.83,403.33 109,406 C108.17,408.67 106.92,411.67 106,414 C105.08,416.33 104.08,418.47 103.5,420 C102.92,421.53 102.67,422.67 102.5,423.2 Z" fill="#75b9fb" fill-opacity="0.5"/>
<path d="M146.75,386.6 C145.29,387.5 141.06,387.93 138,392 C134.94,396.07 129.23,405.5 128.4,411 C127.57,416.5 131.07,421.83 133,425 C134.93,428.17 137.71,429 140,430 C142.29,431 145.62,430.83 146.75,431 Z" fill="#f7b3a7" fill-opacity="0.5"/>
<path d="M146.75,320.7 C147.04,322.25 147.96,325.95 148.5,330 C149.04,334.05 149.33,340 150,345 C150.67,350 151.67,355.17 152.5,360 C153.33,364.83 154.92,369 155,374 C155.08,379 153.75,384.83 153,390 C152.25,395.17 151.17,400.33 150.5,405 C149.83,409.67 149.62,414.13 149,418 C148.38,421.87 147.12,426.5 146.75,428.2 Z" fill="#75b9fb" fill-opacity="0.5"/>
<path d="M54.85,366.7 V370.6 M54.85,380.6 V387.9" stroke="#111" stroke-width="1.25" fill="none"/>
<polygon points="52.85,366 56.85,366 55.85,367.6 53.85,367.6" fill="#111"/>
<polygon points="52.85,388.6 56.85,388.6 55.85,387 53.85,387" fill="#111"/>
<polygon points="51.55,370.6 58.15,370.6 58.15,372.8 56.85,375.8 58.15,378.8 58.15,380.6 51.55,380.6 51.55,378.8 52.85,375.8 51.55,372.8" fill="#f7e2de"/>
<polygon points="51.55,372.8 58.15,372.8 56.85,375.8 58.15,378.8 51.55,378.8 52.85,375.8" fill="#8c7472"/>
<polygon points="51.55,370.6 58.15,370.6 58.15,372.8 56.85,375.8 58.15,378.8 58.15,380.6 51.55,380.6 51.55,378.8 52.85,375.8 51.55,372.8" fill="none" stroke="#111" stroke-width="1.1"/>
<path d="M52.85,375.8 H56.85" stroke="#111" stroke-width="1"/>
<path d="M61.65,343.2 V350.2 M61.65,364.7 V378.6" stroke="#111" stroke-width="1.25" fill="none"/>
<polygon points="59.65,342.5 63.65,342.5 62.65,344.1 60.65,344.1" fill="#111"/>
<polygon points="59.65,379.3 63.65,379.3 62.65,377.7 60.65,377.7" fill="#111"/>
<polygon points="58.35,350.2 64.95,350.2 64.95,353.15 63.65,357.5 64.95,361.85 64.95,364.7 58.35,364.7 58.35,361.85 59.65,357.5 58.35,353.15" fill="#c4e2f8"/>
<polygon points="58.35,353.15 64.95,353.15 63.65,357.5 64.95,361.85 58.35,361.85 59.65,357.5" fill="#55708a"/>
<polygon points="58.35,350.2 64.95,350.2 64.95,353.15 63.65,357.5 64.95,361.85 64.95,364.7 58.35,364.7 58.35,361.85 59.65,357.5 58.35,353.15" fill="none" stroke="#111" stroke-width="1.1"/>
<path d="M59.65,357.5 H63.65" stroke="#111" stroke-width="1"/>
<circle cx="46.9" cy="375.8" r="1.55" fill="#000"/>
<circle cx="69.2" cy="358.5" r="1.55" fill="#000"/>
<path d="M99.1,403.4 V419.9 M99.1,433.1 V441.5" stroke="#111" stroke-width="1.25" fill="none"/>
<polygon points="97.1,402.7 101.1,402.7 100.1,404.3 98.1,404.3" fill="#111"/>
<polygon points="97.1,442.2 101.1,442.2 100.1,440.6 98.1,440.6" fill="#111"/>
<polygon points="95.8,419.9 102.4,419.9 102.4,422.54 101.1,426.5 102.4,430.46 102.4,433.1 95.8,433.1 95.8,430.46 97.1,426.5 95.8,422.54" fill="#f7e2de"/>
<polygon points="95.8,422.54 102.4,422.54 101.1,426.5 102.4,430.46 95.8,430.46 97.1,426.5" fill="#8c7472"/>
<polygon points="95.8,419.9 102.4,419.9 102.4,422.54 101.1,426.5 102.4,430.46 102.4,433.1 95.8,433.1 95.8,430.46 97.1,426.5 95.8,422.54" fill="none" stroke="#111" stroke-width="1.1"/>
<path d="M97.1,426.5 H101.1" stroke="#111" stroke-width="1"/>
<path d="M105.9,349.8 V375.4 M105.9,404.5 V422.5" stroke="#111" stroke-width="1.25" fill="none"/>
<polygon points="103.9,349.1 107.9,349.1 106.9,350.7 104.9,350.7" fill="#111"/>
<polygon points="103.9,423.2 107.9,423.2 106.9,421.6 104.9,421.6" fill="#111"/>
<polygon points="102.6,375.4 109.2,375.4 109.2,381.27 107.9,390 109.2,398.73 109.2,404.5 102.6,404.5 102.6,398.73 103.9,390 102.6,381.27" fill="#c4e2f8"/>
<polygon points="102.6,381.27 109.2,381.27 107.9,390 109.2,398.73 102.6,398.73 103.9,390" fill="#55708a"/>
<polygon points="102.6,375.4 109.2,375.4 109.2,381.27 107.9,390 109.2,398.73 109.2,404.5 102.6,404.5 102.6,398.73 103.9,390 102.6,381.27" fill="none" stroke="#111" stroke-width="1.1"/>
<path d="M103.9,390 H107.9" stroke="#111" stroke-width="1"/>
<circle cx="90.9" cy="425.4" r="1.55" fill="#000"/>
<circle cx="114" cy="391.3" r="1.55" fill="#000"/>
<path d="M143.35,387.2 V403.8 M143.35,421 V429.6" stroke="#111" stroke-width="1.25" fill="none"/>
<polygon points="141.35,386.5 145.35,386.5 144.35,388.1 142.35,388.1" fill="#111"/>
<polygon points="141.35,430.3 145.35,430.3 144.35,428.7 142.35,428.7" fill="#111"/>
<polygon points="140.05,403.8 146.65,403.8 146.65,407.24 145.35,412.4 146.65,417.56 146.65,421 140.05,421 140.05,417.56 141.35,412.4 140.05,407.24" fill="#f7e2de"/>
<polygon points="140.05,407.24 146.65,407.24 145.35,412.4 146.65,417.56 140.05,417.56 141.35,412.4" fill="#8c7472"/>
<polygon points="140.05,403.8 146.65,403.8 146.65,407.24 145.35,412.4 146.65,417.56 146.65,421 140.05,421 140.05,417.56 141.35,412.4 140.05,407.24" fill="none" stroke="#111" stroke-width="1.1"/>
<path d="M141.35,412.4 H145.35" stroke="#111" stroke-width="1"/>
<path d="M150.15,320.2 V359.4 M150.15,388 V428.2" stroke="#111" stroke-width="1.25" fill="none"/>
<polygon points="148.15,319.5 152.15,319.5 151.15,321.1 149.15,321.1" fill="#111"/>
<polygon points="148.15,428.9 152.15,428.9 151.15,427.3 149.15,427.3" fill="#111"/>
<polygon points="146.85,359.4 153.45,359.4 153.45,365.12 152.15,373.7 153.45,382.28 153.45,388 146.85,388 146.85,382.28 148.15,373.7 146.85,365.12" fill="#c4e2f8"/>
<polygon points="146.85,365.12 153.45,365.12 152.15,373.7 153.45,382.28 146.85,382.28 148.15,373.7" fill="#55708a"/>
<polygon points="146.85,359.4 153.45,359.4 153.45,365.12 152.15,373.7 153.45,382.28 153.45,388 146.85,388 146.85,382.28 148.15,373.7 146.85,365.12" fill="none" stroke="#111" stroke-width="1.1"/>
<path d="M148.15,373.7 H152.15" stroke="#111" stroke-width="1"/>
<circle cx="135.9" cy="411.8" r="1.55" fill="#000"/>
<circle cx="158.5" cy="373.2" r="1.55" fill="#000"/>
</g>
<path d="M14,319.3 H191 V441.8" stroke="#b0b0b0" stroke-width="1.3" fill="none"/>
<path d="M14,318.7 V441.8 H191.6" stroke="#a6a6a6" stroke-width="1.8" fill="none"/>
<path d="M58.25,441.8 V439.2 M102.5,441.8 V439.2 M146.75,441.8 V439.2 M14,434.5 H16.6 M14,415.3 H16.6 M14,396.1 H16.6 M14,376.9 H16.6 M14,357.7 H16.6 M14,338.5 H16.6 M14,319.3 H16.6" stroke="#8a8a8a" stroke-width="1" fill="none"/>
<text x="10.8" y="438.1" text-anchor="end" class="tl">2</text>
<text x="10.8" y="418.9" text-anchor="end" class="tl">3</text>
<text x="10.8" y="399.7" text-anchor="end" class="tl">4</text>
<text x="10.8" y="380.5" text-anchor="end" class="tl">5</text>
<text x="10.8" y="361.3" text-anchor="end" class="tl">6</text>
<text x="10.8" y="342.1" text-anchor="end" class="tl">7</text>
<text x="10.8" y="322.9" text-anchor="end" class="tl">8</text>
<text x="58.25" y="453.8" text-anchor="middle" class="tl">&lt;=2000</text>
<text x="102.5" y="453.8" text-anchor="middle" class="tl">2000~4000</text>
<text x="146.75" y="453.8" text-anchor="middle" class="tl">&gt;=4000</text>
<text transform="translate(102.5,316.4) scale(1,1.12)" text-anchor="middle" class="tt">R99pTOT-intensity(%)</text>
<text x="18.9" y="329.3" class="lt">(g)</text>
<clipPath id="clip7"><rect x="218" y="319.3" width="177" height="122.5"/></clipPath>
<g clip-path="url(#clip7)">
<path d="M262.25,377.3 C260.21,377.47 254.54,377.77 250,378.3 C245.46,378.83 239.33,379.75 235,380.5 C230.67,381.25 226.43,382.13 224,382.8 C221.57,383.47 220.57,383.83 220.4,384.5 C220.23,385.17 221.07,385.97 223,386.8 C224.93,387.63 228.33,388.58 232,389.5 C235.67,390.42 241.17,391.5 245,392.3 C248.83,393.1 252.12,393.77 255,394.3 C257.88,394.83 261.04,395.3 262.25,395.5 Z" fill="#f7b3a7" fill-opacity="0.5"/>
<path d="M262.25,368.7 C264.38,368.75 271.38,368.28 275,369 C278.62,369.72 282.28,371.67 284,373 C285.72,374.33 285.63,375.33 285.3,377 C284.97,378.67 284.55,380.83 282,383 C279.45,385.17 273.29,388.38 270,390 C266.71,391.62 263.54,392.25 262.25,392.7 Z" fill="#75b9fb" fill-opacity="0.5"/>
<path d="M306.5,397.9 C304.25,398.58 297.37,400.08 293,402 C288.63,403.92 280.8,406.9 280.3,409.4 C279.8,411.9 286.72,415.23 290,417 C293.28,418.77 297.25,419.37 300,420 C302.75,420.63 305.42,420.67 306.5,420.8 Z" fill="#f7b3a7" fill-opacity="0.5"/>
<path d="M306.5,351.2 C306.75,354.33 306.92,364.87 308,370 C309.08,375.13 311.15,378.67 313,382 C314.85,385.33 318.93,387.33 319.1,390 C319.27,392.67 315.85,395.67 314,398 C312.15,400.33 309.25,402.7 308,404 C306.75,405.3 306.75,405.5 306.5,405.8 Z" fill="#75b9fb" fill-opacity="0.5"/>
<path d="M350.75,376.7 C349.29,377.75 345.06,380.17 342,383 C338.94,385.83 333.07,390.03 332.4,393.7 C331.73,397.37 335.73,402.12 338,405 C340.27,407.88 343.88,409.85 346,411 C348.12,412.15 349.96,411.75 350.75,411.9 Z" fill="#f7b3a7" fill-opacity="0.5"/>
<path d="M350.75,324.7 C351.12,325.58 352.38,326.62 353,330 C353.62,333.38 354,340 354.5,345 C355,350 355.45,355.5 356,360 C356.55,364.5 357.72,367.83 357.8,372 C357.88,376.17 356.97,380.67 356.5,385 C356.03,389.33 355.5,394.17 355,398 C354.5,401.83 354.21,405.83 353.5,408 C352.79,410.17 351.21,410.5 350.75,411 Z" fill="#75b9fb" fill-opacity="0.5"/>
<path d="M258.85,377.3 V383 M258.85,388.7 V395.3" stroke="#111" stroke-width="1.25" fill="none"/>
<polygon points="256.85,376.6 260.85,376.6 259.85,378.2 257.85,378.2" fill="#111"/>
<polygon points="256.85,396 260.85,396 259.85,394.4 257.85,394.4" fill="#111"/>
<polygon points="255.55,383 262.15,383 262.15,384.29 261.25,386 262.15,387.71 262.15,388.7 255.55,388.7 255.55,387.71 256.45,386 255.55,384.29" fill="#f7e2de"/>
<polygon points="255.55,383 262.15,383 262.15,384.29 261.25,386 262.15,387.71 262.15,388.7 255.55,388.7 255.55,387.71 256.45,386 255.55,384.29" fill="none" stroke="#111" stroke-width="1.1"/>
<path d="M256.45,386 H261.25" stroke="#111" stroke-width="1"/>
<path d="M265.65,369.6 V372.7 M265.65,384 V392" stroke="#111" stroke-width="1.25" fill="none"/>
<polygon points="263.65,368.9 267.65,368.9 266.65,370.5 264.65,370.5" fill="#111"/>
<polygon points="263.65,392.7 267.65,392.7 266.65,391.1 264.65,391.1" fill="#111"/>
<polygon points="262.35,372.7 268.95,372.7 268.95,374.91 267.65,378.3 268.95,381.69 268.95,384 262.35,384 262.35,381.69 263.65,378.3 262.35,374.91" fill="#c4e2f8"/>
<polygon points="262.35,374.91 268.95,374.91 267.65,378.3 268.95,381.69 262.35,381.69 263.65,378.3" fill="#55708a"/>
<polygon points="262.35,372.7 268.95,372.7 268.95,374.91 267.65,378.3 268.95,381.69 268.95,384 262.35,384 262.35,381.69 263.65,378.3 262.35,374.91" fill="none" stroke="#111" stroke-width="1.1"/>
<path d="M263.65,378.3 H267.65" stroke="#111" stroke-width="1"/>
<circle cx="250.7" cy="385.6" r="1.55" fill="#000"/>
<circle cx="273.3" cy="379.3" r="1.55" fill="#000"/>
<path d="M303.1,393.5 V404.7 M303.1,413.5 V420.8" stroke="#111" stroke-width="1.25" fill="none"/>
<polygon points="301.1,392.8 305.1,392.8 304.1,394.4 302.1,394.4" fill="#111"/>
<polygon points="301.1,421.5 305.1,421.5 304.1,419.9 302.1,419.9" fill="#111"/>
<polygon points="299.8,404.7 306.4,404.7 306.4,405.86 305.1,408.5 306.4,411.14 306.4,413.5 299.8,413.5 299.8,411.14 301.1,408.5 299.8,405.86" fill="#f7e2de"/>
<polygon points="299.8,404.7 306.4,404.7 306.4,405.86 305.1,408.5 306.4,411.14 306.4,413.5 299.8,413.5 299.8,411.14 301.1,408.5 299.8,405.86" fill="none" stroke="#111" stroke-width="1.1"/>
<path d="M301.1,408.5 H305.1" stroke="#111" stroke-width="1"/>
<path d="M309.9,351.2 V374.8 M309.9,396.8 V408.1" stroke="#111" stroke-width="1.25" fill="none"/>
<polygon points="307.9,350.5 311.9,350.5 310.9,352.1 308.9,352.1" fill="#111"/>
<polygon points="307.9,408.8 311.9,408.8 310.9,407.2 308.9,407.2" fill="#111"/>
<polygon points="306.6,374.8 313.2,374.8 313.2,384.2 311.9,390.5 313.2,396.8 313.2,396.8 306.6,396.8 306.6,396.8 307.9,390.5 306.6,384.2" fill="#c4e2f8"/>
<polygon points="306.6,384.2 313.2,384.2 311.9,390.5 313.2,396.8 306.6,396.8 307.9,390.5" fill="#55708a"/>
<polygon points="306.6,374.8 313.2,374.8 313.2,384.2 311.9,390.5 313.2,396.8 313.2,396.8 306.6,396.8 306.6,396.8 307.9,390.5 306.6,384.2" fill="none" stroke="#111" stroke-width="1.1"/>
<path d="M307.9,390.5 H311.9" stroke="#111" stroke-width="1"/>
<circle cx="303.2" cy="391.2" r="1.1" fill="#000"/>
<circle cx="295.3" cy="408.8" r="1.55" fill="#000"/>
<circle cx="317.7" cy="386.4" r="1.55" fill="#000"/>
<path d="M347.35,377.5 V387.6 M347.35,401.7 V410.6" stroke="#111" stroke-width="1.25" fill="none"/>
<polygon points="345.35,376.8 349.35,376.8 348.35,378.4 346.35,378.4" fill="#111"/>
<polygon points="345.35,411.3 349.35,411.3 348.35,409.7 346.35,409.7" fill="#111"/>
<polygon points="344.05,387.6 350.65,387.6 350.65,390.27 349.35,394.5 350.65,398.73 350.65,401.7 344.05,401.7 344.05,398.73 345.35,394.5 344.05,390.27" fill="#f7e2de"/>
<polygon points="344.05,390.27 350.65,390.27 349.35,394.5 350.65,398.73 344.05,398.73 345.35,394.5" fill="#8c7472"/>
<polygon points="344.05,387.6 350.65,387.6 350.65,390.27 349.35,394.5 350.65,398.73 350.65,401.7 344.05,401.7 344.05,398.73 345.35,394.5 344.05,390.27" fill="none" stroke="#111" stroke-width="1.1"/>
<path d="M345.35,394.5 H349.35" stroke="#111" stroke-width="1"/>
<path d="M354.15,324.7 V349.4 M354.15,385.7 V410" stroke="#111" stroke-width="1.25" fill="none"/>
<polygon points="352.15,324 356.15,324 355.15,325.6 353.15,325.6" fill="#111"/>
<polygon points="352.15,410.7 356.15,410.7 355.15,409.1 353.15,409.1" fill="#111"/>
<polygon points="350.85,349.4 357.45,349.4 357.45,363.11 356.15,374 357.45,384.89 357.45,385.7 350.85,385.7 350.85,384.89 352.15,374 350.85,363.11" fill="#c4e2f8"/>
<polygon points="350.85,363.11 357.45,363.11 356.15,374 357.45,384.89 350.85,384.89 352.15,374" fill="#55708a"/>
<polygon points="350.85,349.4 357.45,349.4 357.45,363.11 356.15,374 357.45,384.89 357.45,385.7 350.85,385.7 350.85,384.89 352.15,374 350.85,363.11" fill="none" stroke="#111" stroke-width="1.1"/>
<path d="M352.15,374 H356.15" stroke="#111" stroke-width="1"/>
<circle cx="339.7" cy="394.9" r="1.55" fill="#000"/>
<circle cx="361.5" cy="370.2" r="1.55" fill="#000"/>
</g>
<path d="M218,319.3 H395 V441.8" stroke="#b0b0b0" stroke-width="1.3" fill="none"/>
<path d="M218,318.7 V441.8 H395.6" stroke="#a6a6a6" stroke-width="1.8" fill="none"/>
<path d="M262.25,441.8 V439.2 M306.5,441.8 V439.2 M350.75,441.8 V439.2 M218,441.8 H220.6 M218,401 H220.6 M218,360.2 H220.6 M218,319.3 H220.6" stroke="#8a8a8a" stroke-width="1" fill="none"/>
<text x="214.8" y="445.4" text-anchor="end" class="tl">0</text>
<text x="214.8" y="404.6" text-anchor="end" class="tl">0.5</text>
<text x="214.8" y="363.8" text-anchor="end" class="tl">1</text>
<text x="214.8" y="322.9" text-anchor="end" class="tl">1.5</text>
<text x="262.25" y="453.8" text-anchor="middle" class="tl">&lt;=2000</text>
<text x="306.5" y="453.8" text-anchor="middle" class="tl">2000~4000</text>
<text x="350.75" y="453.8" text-anchor="middle" class="tl">&gt;=4000</text>
<text transform="translate(306.5,316.4) scale(1,1.12)" text-anchor="middle" class="tt">R99pTOT-duration(%)</text>
<text x="222.9" y="329.3" class="lt">(h)</text>
<rect x="536.8" y="15.2" width="31.7" height="5.3" fill="#fbd9d3"/>
<rect x="536.8" y="22.8" width="31.7" height="5.3" fill="#badcfd"/>
<text transform="translate(570.8,20.3) scale(1,1.12)" class="lg">1950-1979</text>
<text transform="translate(570.8,27.8) scale(1,1.12)" class="lg">1990-2019</text>
<text x="583.2" y="146.3" class="tl">(m)</text>
<path d="M0.5,454 V0.5 H600" stroke="#000" stroke-width="1.2" fill="none"/>
</svg>
</body></html>
